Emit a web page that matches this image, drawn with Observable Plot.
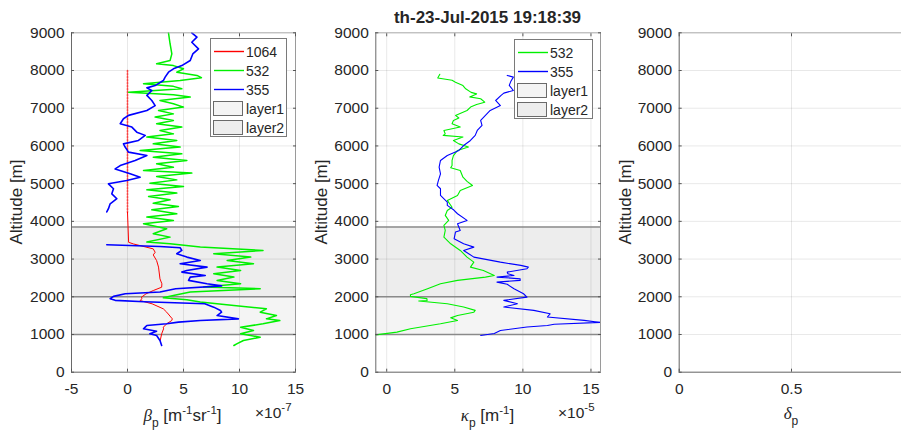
<!DOCTYPE html>
<html>
<head>
<meta charset="utf-8">
<script src="https://cdn.jsdelivr.net/npm/d3@7"></script>
<script src="https://cdn.jsdelivr.net/npm/@observablehq/plot@0.6"></script>
<style>
  body { margin: 0; background: #fff; overflow: hidden; }
  #fig { position: relative; width: 901px; height: 431px; overflow: hidden;
         font-family: "Liberation Sans", Arial, sans-serif; color: #262626; background: #fff; }
  .panel { position: absolute; top: 0; }
  .title { position: absolute; top: 8px; width: 300px; text-align: center;
           font-weight: bold; font-size: 17px; line-height: 20px; }
  .ylab { position: absolute; width: 200px; height: 20px; line-height: 20px; text-align: center;
          font-size: 17px; transform: rotate(-90deg); white-space: nowrap; }
  .xlab { position: absolute; width: 200px; height: 22px; line-height: 22px; text-align: center;
          font-size: 17px; white-space: nowrap; }
  .mult { position: absolute; height: 22px; line-height: 22px; font-size: 15.5px; white-space: nowrap; }
  .greek { font-family: "Liberation Serif", "DejaVu Serif", serif; font-style: italic; }
  .sub { font-size: 12px; position: relative; top: 6px; }
  .sup { font-size: 11.5px; position: relative; top: -7px; }
  .legend { position: absolute; background: #fff; border: 1px solid #7a7a7a; box-sizing: border-box;
            font-size: 14px; }
  .legend .row { position: absolute; left: 0; height: 18px; line-height: 18px; width: 100%; }
  .legend svg.ln { position: absolute; left: 3px; top: 6px; width: 30px; height: 5px; overflow: visible; }
  .legend .patch { position: absolute; left: 2px; top: 1px; width: 30px; height: 15px;
                   border: 1px solid #6a6a6a; box-sizing: border-box; }
  .legend .txt { position: absolute; left: 35px; top: 0; }
</style>
</head>
<body>
<div id="fig"></div>
<script>
// ---- axis ticks ----
const altitudeTicks = [0, 1000, 2000, 3000, 4000, 5000, 6000, 7000, 8000, 9000];
const betaTicks = [-5, 0, 5, 10, 15];      // x 1e-7 m^-1 sr^-1
const kappaTicks = [0, 5, 10, 15];         // x 1e-5 m^-1
const deltaTicks = [0, 0.5, 1];
const deltaTickLabels = [0, 0.5];

// ---- cloud/aerosol layers [base, top] in m ----
const layer1 = [1000, 2000];
const layer2 = [2000, 3850];

// ---- backscatter profiles [altitude m, beta 1e-7] ----
const beta1064 = [
  [8000, 0], [4240, 0],
  [3445, 0.1], [3400, 0.54], [3270, 2.3], [3180, 2.47], [3110, 2.3], [2960, 2.6], [2787, 2.77],
  [2475, 2.9], [2345, 3.07], [2254, 3.05], [2165, 2.3], [2077, 1.65], [1990, 1.25], [1947, 1.28],
  [1900, 1.13], [1813, 2.2], [1680, 3.2], [1592, 3.5], [1415, 4.0], [1370, 3.95], [1283, 3.5],
  [1194, 3.2], [1150, 3.22], [1017, 3.05], [840, 2.92]
];
const beta532 = [
  [9000, 3.66], [8710, 3.8], [8440, 3.96], [8265, 3.8], [8180, 2.6], [8130, 4.1], [8045, 5.0],
  [7955, 4.4], [7870, 6.2], [7810, 6.6], [7735, 4.7], [7650, 1.43], [7580, 4.1], [7515, 4.85],
  [7425, 0.1], [7355, 4.1], [7295, 5.6], [7205, 2.9], [7117, 4.1], [7030, 5.0], [6940, 2.77],
  [6850, 4.1], [6765, 2.47], [6675, 4.1], [6590, 2.6], [6500, 4.85], [6410, 2.9], [6320, 4.1],
  [6235, 1.73], [6145, 4.4], [6055, 2.3], [5970, 4.7], [5880, 1.13], [5790, 4.85], [5700, 2.3],
  [5615, 5.3], [5525, 2.6], [5435, 4.1], [5350, 1.43], [5280, 5.74], [5190, 2.6], [5100, 4.4],
  [5010, 2.0], [4925, 5.0], [4835, 1.73], [4750, 4.4], [4660, 1.88], [4570, 3.8], [4480, 2.3],
  [4395, 4.55], [4305, 2.17], [4200, 4.4], [4113, 1.73], [4025, 4.1], [3936, 1.43], [3803, 3.5],
  [3670, 2.3], [3582, 3.8], [3450, 1.73], [3405, 3.8], [3317, 6.5], [3229, 12.1], [3140, 7.7],
  [3052, 11.0], [2964, 8.9], [2876, 11.25], [2787, 8.0], [2699, 10.1], [2610, 7.7], [2522, 9.5],
  [2434, 8.0], [2345, 10.1], [2257, 6.8], [2213, 11.85], [2125, 5.6], [2036, 4.1], [1974, 3.2],
  [1920, 5.3], [1860, 6.5], [1770, 9.5], [1680, 12.4], [1592, 11.85], [1503, 13.3], [1415, 12.4],
  [1370, 13.6], [1283, 12.1], [1194, 10.1], [1106, 11.25], [1017, 10.1], [929, 11.85], [840, 10.35],
  [752, 9.75], [708, 9.5]
];
const beta355 = [
  [9000, 5.74], [8885, 6.2], [8750, 5.74], [8575, 6.34], [8440, 5.83], [8265, 5.6], [8130, 4.85],
  [8045, 4.1], [7955, 3.66], [7825, 3.36], [7735, 3.2], [7600, 2.47], [7540, 1.73], [7470, 2.17],
  [7340, 1.73], [7205, 2.17], [7070, 2.47], [6940, 1.73], [6810, 0.09], [6720, -0.36], [6590, -0.65],
  [6500, 0.39], [6365, 0.83], [6280, 1.58], [6145, 0.98], [6055, -0.36], [5970, -0.21], [5835, 0.09],
  [5745, 1.73], [5615, 0.68], [5480, -0.65], [5390, -1.1], [5260, 0.24], [5170, 1.13], [5085, -0.06],
  [4995, -1.7], [4865, -1.25], [4730, -1.4], [4600, -0.95], [4465, -1.55], [4335, -1.7], [4250, -1.85],
  [3800, NaN],
  [3378, -1.85], [3335, 2.9], [3300, 4.7], [3229, 4.85], [3140, 4.4], [3052, 5.3], [2964, 6.5],
  [2876, 4.7], [2787, 7.1], [2699, 5.3], [2654, 4.85], [2566, 6.94], [2522, 5.6], [2434, 5.45],
  [2345, 7.1], [2290, 8.4], [2213, 4.3], [2125, 2.9], [2080, -0.2], [2010, -1.25], [1950, -1.55],
  [1905, -1.1], [1870, 1.5], [1814, 6.9], [1725, 7.7], [1636, 8.3], [1592, 8.4], [1503, 8.0],
  [1415, 9.9], [1370, 6.5], [1327, 4.55], [1283, 3.5], [1238, 1.73], [1194, 1.58], [1150, 1.43],
  [1088, 2.6], [1017, 2.0], [973, 2.6], [840, 2.9], [708, 3.05]
];

// ---- extinction profiles [altitude m, kappa 1e-5] ----
const kappa532 = [
  [7900, 3.9], [7800, 3.75], [7740, 4.8], [7690, 5.05], [7600, 5.6], [7515, 5.8], [7420, 6.2],
  [7380, 6.6], [7300, 6.1], [7250, 6.9], [7160, 7.2], [7100, 6.6], [7040, 6.2], [6940, 5.9],
  [6810, 5.05], [6740, 5.3], [6675, 4.9], [6590, 4.8], [6500, 5.4], [6410, 4.2], [6320, 4.3],
  [6280, 4.15], [6235, 5.6], [6145, 4.9], [6055, 5.3], [5970, 6.0], [5880, 5.2], [5745, 4.9],
  [5615, 4.8], [5480, 4.8], [5420, 4.7], [5350, 5.4], [5170, 5.6], [5060, 5.9], [4950, 6.3],
  [4820, 5.4], [4685, 5.2], [4555, 4.45], [4375, 4.8], [4290, 4.45], [4157, 4.3], [4025, 4.55],
  [3892, 4.2], [3759, 4.3], [3582, 4.2], [3405, 4.7], [3229, 5.4], [3052, 5.9], [2920, 6.4],
  [2787, 6.15], [2699, 7.1], [2566, 7.9], [2522, 7.25], [2434, 5.2], [2345, 3.95], [2213, 3.0],
  [2080, 2.0], [2053, 1.74], [2010, 1.75], [1950, 2.95], [1902, 2.97], [1887, 2.35], [1816, 4.45],
  [1728, 5.65], [1640, 6.5], [1592, 6.4], [1503, 5.2], [1441, 4.7], [1370, 5.2], [1283, 3.95],
  [1150, 1.75], [1062, 0.75], [990, -0.8]
];
const kappa355 = [
  [7870, 8.85], [7825, 9.3], [7700, 9.1], [7605, 9.0], [7470, 9.3], [7400, 8.6], [7340, 8.4],
  [7205, 8.0], [7070, 8.35], [6940, 7.6], [6810, 7.25], [6675, 6.9], [6545, 7.0], [6410, 6.65],
  [6280, 6.5], [6145, 6.15], [6010, 5.65], [5880, 5.3], [5745, 4.45], [5615, 3.95], [5440, 3.85],
  [5260, 3.95], [5085, 3.8], [4953, 3.7], [4865, 3.95], [4688, 3.95], [4510, 4.45], [4423, 4.45],
  [4300, 4.93], [4202, 5.2], [4025, 5.9], [3936, 5.2], [3759, 5.4], [3715, 5.05], [3538, 4.95],
  [3405, 5.65], [3317, 6.4], [3229, 5.65], [3052, 6.4], [2918, 8.35], [2832, 9.85], [2786, 10.4],
  [2743, 10.3], [2655, 8.85], [2610, 8.9], [2566, 9.35], [2522, 8.1], [2476, 9.8], [2434, 9.8],
  [2388, 8.1], [2330, 8.85], [2213, 9.35], [2080, 10.05], [1990, 10.3], [1905, 8.6], [1816, 9.6],
  [1728, 8.6], [1640, 10.8], [1549, 12.0], [1464, 11.8], [1375, 14.5], [1320, 15.7], [1270, 12.3],
  [1239, 11.8], [1200, 10.3], [1106, 8.35], [1025, 7.9], [974, 6.9]
];

const seriesColors = {"1064": "#ff0000", "532": "#00f000", "355": "#0000ff"};

const fig = document.getElementById("fig");
const FONT = '"Liberation Sans", Arial, sans-serif';
const MARGIN_TOP = 32.3, MARGIN_BOTTOM = 59.3, H = 431;

function profilePanel({left, width, marginLeft, marginRight, xDomain, xTicks, xLabelTicks, layers, lines}) {
  const marks = [];
  if (layers) {
    marks.push(Plot.rect([layer1], {x1: xDomain[0], x2: xDomain[1], y1: d => d[0], y2: d => d[1], fill: "#f4f4f4"}));
    marks.push(Plot.rect([layer2], {x1: xDomain[0], x2: xDomain[1], y1: d => d[0], y2: d => d[1], fill: "#ededed"}));
  }
  marks.push(Plot.gridX(xTicks, {stroke: "#000", strokeOpacity: 0.09}));
  marks.push(Plot.gridY(altitudeTicks, {stroke: "#000", strokeOpacity: 0.09}));
  if (layers) {
    marks.push(Plot.ruleY([layer1[0], layer1[1], layer2[1]], {stroke: "#8a8a8a", strokeWidth: 1.6}));
  }
  for (const l of lines) marks.push(l);
  marks.push(Plot.ruleX([xDomain[1]], {stroke: "#9a9a9a"}));
  marks.push(Plot.ruleY([9000], {stroke: "#b0b0b0"}));
  marks.push(Plot.ruleX([xDomain[0]], {stroke: "#6a6a6a"}));
  marks.push(Plot.ruleY([0], {stroke: "#6a6a6a"}));
  marks.push(Plot.axisX(xTicks, {anchor: "bottom", tickSize: -3, stroke: "#555", tickFormat: () => "", label: null}));
  marks.push(Plot.axisX(xLabelTicks || xTicks, {anchor: "bottom", tickSize: 0, tickPadding: 11, tickFormat: d => `${d}`, label: null}));
  marks.push(Plot.axisX(xTicks, {anchor: "top", tickSize: -3, stroke: "#555", tickFormat: () => "", label: null}));
  marks.push(Plot.axisY(altitudeTicks, {anchor: "left", tickSize: -3, tickPadding: 10, stroke: "#555", tickFormat: d => `${d}`, label: null}));
  marks.push(Plot.axisY(altitudeTicks, {anchor: "right", tickSize: -3, stroke: "#555", tickFormat: () => "", label: null}));

  const svg = Plot.plot({
    width, height: H,
    marginLeft, marginRight, marginTop: MARGIN_TOP, marginBottom: MARGIN_BOTTOM,
    x: {domain: xDomain},
    y: {domain: [0, 9000]},
    style: {fontFamily: FONT, fontSize: "15.5px", color: "#262626", background: "transparent", overflow: "visible"},
    marks
  });
  svg.classList.add("panel");
  svg.style.left = left + "px";
  fig.appendChild(svg);
}

const lineOpts = (color, w = 1.1) => ({x: d => d[1], y: d => d[0], stroke: color, strokeWidth: w, curve: "linear"});

// Panel 1: particle backscatter
profilePanel({
  left: 0, width: 301, marginLeft: 71, marginRight: 6,
  xDomain: [-5, 15], xTicks: betaTicks, layers: true,
  lines: [
    Plot.line(beta1064.filter(d => d[0] >= 4240), {...lineOpts(seriesColors["1064"], 1.6), strokeOpacity: 0.7, strokeDasharray: "1.5,1.5"}),
    Plot.line(beta1064.filter(d => d[0] <= 4240), lineOpts(seriesColors["1064"], 1)),
    Plot.line(beta532, lineOpts(seriesColors["532"], 1.5)),
    Plot.line(beta355, lineOpts(seriesColors["355"], 1.6))
  ]
});

// Panel 2: particle extinction
profilePanel({
  left: 300, width: 301, marginLeft: 75.3, marginRight: 1,
  xDomain: [-0.8, 15.7], xTicks: kappaTicks, layers: true,
  lines: [
    Plot.line(kappa532, lineOpts(seriesColors["532"], 1.1)),
    Plot.line(kappa355, lineOpts(seriesColors["355"], 1.1))
  ]
});

// Panel 3: depolarisation (no data)
profilePanel({
  left: 600, width: 310, marginLeft: 78.7, marginRight: 6.7,
  xDomain: [0, 1], xTicks: deltaTicks, xLabelTicks: deltaTickLabels, layers: false, lines: []
});

// ---- text ----
function addDiv(cls, html, style) {
  const d = document.createElement("div");
  d.className = cls;
  d.innerHTML = html;
  Object.assign(d.style, style);
  fig.appendChild(d);
  return d;
}
addDiv("title", "th-23-Jul-2015 19:18:39", {left: (487.5 - 150) + "px"});

for (const cx of [17, 322, 625.5]) {
  addDiv("ylab", "Altitude [m]", {left: (cx - 100) + "px", top: (201.5 - 10) + "px"});
}
addDiv("xlab", '<span class="greek">β</span><span class="sub">p</span> [m<span class="sup">-1</span>sr<span class="sup">-1</span>]',
  {left: (182.5 - 100) + "px", top: (405) + "px"});
addDiv("xlab", '<span class="greek">κ</span><span class="sub">p</span> [m<span class="sup">-1</span>]',
  {left: (487.5 - 100) + "px", top: (405) + "px"});
addDiv("xlab", '<span class="greek">δ</span><span class="sub">p</span>',
  {left: (791 - 100) + "px", top: (403) + "px"});
addDiv("mult", '×10<span class="sup">-7</span>', {left: "255px", top: "402px"});
addDiv("mult", '×10<span class="sup">-5</span>', {left: "558px", top: "402px"});

// ---- legends ----
const SVGNS = "http://www.w3.org/2000/svg";
function legend(left, top, width, height, entries) {
  const box = addDiv("legend", "", {left: left + "px", top: top + "px", width: width + "px", height: height + "px"});
  entries.forEach((e, i) => {
    const row = document.createElement("div");
    row.className = "row";
    row.style.top = Math.round(4 + i * 18.9) + "px";
    let sw;
    if (e.fill) {
      sw = document.createElement("span");
      sw.className = "patch";
      sw.style.background = e.fill;
    } else {
      sw = document.createElementNS(SVGNS, "svg");
      sw.setAttribute("class", "ln");
      const ln = document.createElementNS(SVGNS, "line");
      ln.setAttribute("x1", 0); ln.setAttribute("x2", 30);
      ln.setAttribute("y1", 2.5); ln.setAttribute("y2", 2.5);
      ln.setAttribute("stroke", e.color);
      ln.setAttribute("stroke-width", 1.4);
      sw.appendChild(ln);
    }
    const t = document.createElement("span");
    t.className = "txt";
    t.textContent = e.label;
    row.appendChild(sw); row.appendChild(t);
    box.appendChild(row);
  });
}
legend(210, 38, 77, 99, [
  {label: "1064", color: seriesColors["1064"]},
  {label: "532", color: seriesColors["532"]},
  {label: "355", color: seriesColors["355"]},
  {label: "layer1", fill: "#f4f4f4"},
  {label: "layer2", fill: "#ededed"}
]);
legend(514, 39, 79, 80, [
  {label: "532", color: seriesColors["532"]},
  {label: "355", color: seriesColors["355"]},
  {label: "layer1", fill: "#f4f4f4"},
  {label: "layer2", fill: "#ededed"}
]);
</script>
</body>
</html>
